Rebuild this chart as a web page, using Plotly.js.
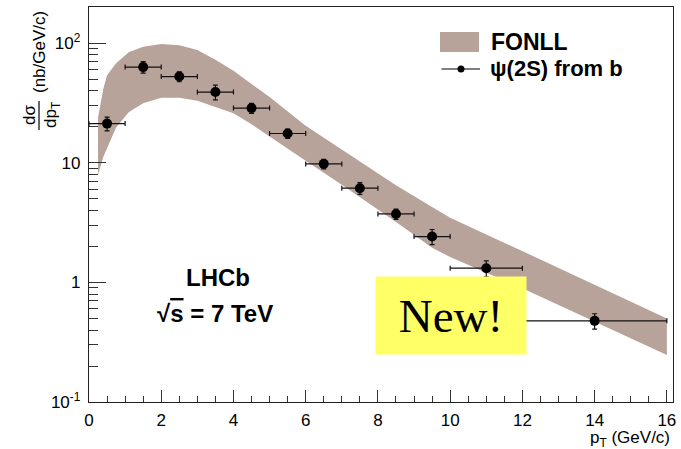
<!DOCTYPE html>
<html>
<head>
<meta charset="utf-8">
<script src="https://cdn.plot.ly/plotly-3.0.1.min.js"></script>
<style>html,body{margin:0;padding:0;background:#fff;}#chart{width:681px;height:449px;}</style>
</head>
<body>
<div id="chart"></div>
<script>
// ---- data ----
var ptCenters = [0.5, 1.5, 2.5, 3.5, 4.5, 5.5, 6.5, 7.5, 8.5, 9.5, 11, 14];
var ptHalfWidth = [0.5, 0.5, 0.5, 0.5, 0.5, 0.5, 0.5, 0.5, 0.5, 0.5, 1, 2];
var xsec = [21.3, 63.2, 52.7, 39.1, 28.7, 17.6, 9.8, 6.14, 3.74, 2.42, 1.315, 0.477];
var xsecErr = [2.8, 7.0, 5.0, 5.5, 2.8, 1.6, 0.9, 0.7, 0.37, 0.35, 0.2, 0.07];

var fonllPt =    [0.25, 0.4,  0.5,  0.75, 1.1,  1.5,  2.0,  2.5,  3.0,  3.5,  4.0,  4.5,  5.0,  6.0,  7.0,  7.5,  8.5,  9.5,  10.0, 12.1,  14.0, 16.0];
var fonllUpper = [24,   42,   54,   68,   84,   93.6, 98.6, 96.5, 88,   73,   59,   46,   35.5, 20.4, 12.9, 10.2, 6.5,  4.28, 3.47, 1.77,  0.955, 0.50];
var fonllLower = [7.9,  11.3, 13.5, 19.8, 26.5, 31.5, 35,   35,   33,   29.5, 26,   21,   16.6, 10.4, 6.56, 5.2,  3.2,  1.95, 1.63, 0.865, 0.47,  0.247];

var yTickVals = [0.1, 1, 10, 100];
var yTickText = ['10<sup>-1</sup>', '1', '10', '10<sup>2</sup>'];

// ---- geometry helpers (layout only) ----
var L = 89, T = 7, W = 584, H = 395;
function px(x) { return (x - L) / W; }
function py(y) { return (T + H - y) / H; }

var bandX = fonllPt.concat(fonllPt.slice().reverse());
var bandY = fonllUpper.concat(fonllLower.slice().reverse());

var band = {
  x: bandX, y: bandY, type: 'scatter', mode: 'lines', fill: 'toself',
  fillcolor: '#b8a39a', line: {width: 0, color: '#b8a39a'},
  name: 'FONLL', showlegend: false, hoverinfo: 'skip'
};

var data = {
  x: ptCenters, y: xsec, type: 'scatter', mode: 'markers',
  marker: {color: '#000', size: 10},
  error_x: {type: 'data', array: ptHalfWidth, color: '#111', thickness: 1.2, width: 2.5},
  error_y: {type: 'data', array: xsecErr, color: '#111', thickness: 1.2, width: 2.5},
  name: 'ψ(2S) from b', showlegend: false
};

var minorY = [];
[0.1, 1, 10, 100].forEach(function (d) { for (var k = 2; k <= 9; k++) minorY.push(d * k); });

var fam = 'Liberation Sans, Arial, Helvetica, sans-serif';

var layout = {
  width: 681, height: 449,
  margin: {l: L, r: 681 - L - W, t: T, b: 449 - T - H},
  paper_bgcolor: '#fff', plot_bgcolor: '#fff',
  showlegend: false,
  font: {family: fam, size: 17, color: '#000'},
  xaxis: {
    range: [0, 16.17], showgrid: false, zeroline: false,
    showline: true, linecolor: '#222', linewidth: 1.2, mirror: true,
    ticks: 'inside', ticklen: 12, tickwidth: 1, tickcolor: '#333',
    dtick: 2, tick0: 0, tickfont: {size: 17, family: fam},
    minor: {ticks: 'inside', ticklen: 6, dtick: 0.5, tick0: 0, tickcolor: '#333', tickwidth: 1, showgrid: false},
    ticklabelstandoff: 2
  },
  yaxis: {
    type: 'log', range: [-1, 2.3035], showgrid: false, zeroline: false,
    showline: true, linecolor: '#222', linewidth: 1.2, mirror: true,
    ticks: 'inside', ticklen: 17, tickwidth: 1, tickcolor: '#333',
    tickmode: 'array', tickvals: yTickVals, ticktext: yTickText,
    tickfont: {size: 17, family: fam},
    minor: {ticks: 'inside', ticklen: 9, tickmode: 'array', tickvals: minorY, tickcolor: '#333', tickwidth: 1, showgrid: false},
    ticklabelstandoff: 4
  },
  shapes: [
    // legend swatch & key
    {type: 'rect', xref: 'paper', yref: 'paper', x0: px(440), x1: px(479), y0: py(52), y1: py(32),
     fillcolor: '#b8a39a', line: {width: 0}},
    {type: 'line', xref: 'paper', yref: 'paper', x0: px(441.5), x1: px(480), y0: py(69), y1: py(69),
     line: {color: '#000', width: 1.2}},
    {type: 'circle', xref: 'paper', yref: 'paper', x0: px(457.5), x1: px(464.5), y0: py(72.5), y1: py(65.5),
     fillcolor: '#000', line: {color: '#000', width: 0}},
    // fraction bar of the y title
    {type: 'line', xref: 'paper', yref: 'paper', x0: px(39), x1: px(39), y0: py(130), y1: py(101),
     line: {color: '#000', width: 1.2}}
  ],
  annotations: [
    {xref: 'paper', yref: 'paper', x: px(489), y: py(42), xanchor: 'left', yanchor: 'middle',
     text: '<b>FONLL</b>', showarrow: false, font: {size: 23, family: fam}},
    {xref: 'paper', yref: 'paper', x: px(488), y: py(68), xanchor: 'left', yanchor: 'middle',
     text: '<b>ψ(2S) from b</b>', showarrow: false, font: {size: 22, family: fam}},
    {xref: 'paper', yref: 'paper', x: px(218), y: py(277), xanchor: 'center', yanchor: 'middle',
     text: '<b>LHCb</b>', showarrow: false, font: {size: 24, family: fam}},
    {xref: 'paper', yref: 'paper', x: px(215), y: py(313), xanchor: 'center', yanchor: 'middle',
     text: '<b>√<span style="text-decoration:overline">s</span> = 7 TeV</b>', showarrow: false, font: {size: 24, family: fam}},
    {xref: 'paper', yref: 'paper', x: px(672), y: py(439), xanchor: 'right', yanchor: 'middle',
     text: 'p<sub>T</sub> (GeV/c)', showarrow: false, font: {size: 17, family: fam}},
    {xref: 'paper', yref: 'paper', x: px(39), y: py(52), xanchor: 'center', yanchor: 'middle',
     text: '(nb/GeV/c)', textangle: -90, showarrow: false, font: {size: 17, family: fam}},
    {xref: 'paper', yref: 'paper', x: px(29), y: py(115), xanchor: 'center', yanchor: 'middle',
     text: 'dσ', textangle: -90, showarrow: false, font: {size: 17, family: fam}},
    {xref: 'paper', yref: 'paper', x: px(52), y: py(115), xanchor: 'center', yanchor: 'middle',
     text: 'dp<sub>T</sub>', textangle: -90, showarrow: false, font: {size: 17, family: fam}},
    {xref: 'paper', yref: 'paper', x: px(450.8), y: py(315.8), xanchor: 'center', yanchor: 'middle',
     text: 'New!', showarrow: false, width: 150, height: 77, bgcolor: '#ffff66', borderpad: 0,
     font: {size: 47, family: 'Liberation Serif, Times New Roman, serif', color: '#000'}}
  ]
};

Plotly.newPlot('chart', [band, data], layout, {displayModeBar: false, staticPlot: true});
</script>
</body>
</html>
